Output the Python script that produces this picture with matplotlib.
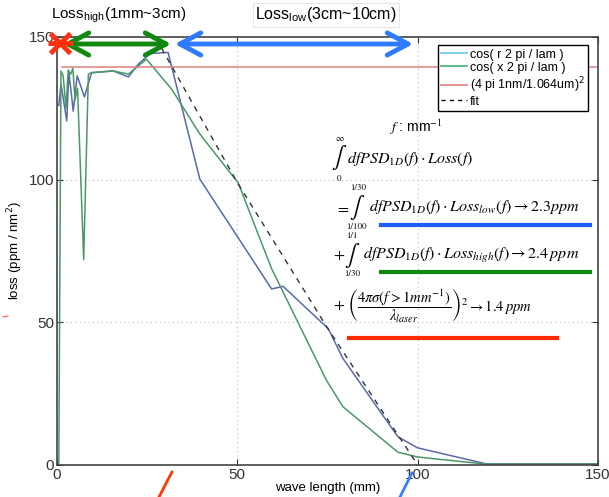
import numpy as np
import matplotlib
matplotlib.use("Agg")
import matplotlib.pyplot as plt
from matplotlib.lines import Line2D

plt.rcParams['font.family'] = ['Liberation Sans', 'DejaVu Sans']

# wave length (mm) and loss (ppm/nm^2)
r_x = [0.5, 1.1, 1.8, 2.7, 3.3, 3.9, 4.5, 5.6, 7.6, 9.6, 15.6, 19.8, 22.5, 25.8, 30.8,
       39.6, 59.5, 62.7, 75.2, 79.3, 94.5, 100, 119, 150]
r_y = [126, 133.5, 128, 120.6, 137.5, 131, 124, 136.4, 129, 137.5, 138.1, 136, 140.4, 144.2, 144.6,
       100.2, 61.7, 62.6, 47.8, 37.3, 9.9, 6.0, 0.4, 0.4]

x_x = [0.5, 1.1, 1.7, 2.5, 3.1, 3.8, 4.4, 5.0, 5.7, 7.4, 8.7, 9.6, 15.6, 19.8, 24.8, 31.8,
       39.6, 47.9, 50.2, 59.5, 74.7, 79.3, 94.5, 100, 119, 150]
x_y = [0, 138, 136.5, 125, 138.5, 137, 139, 128, 132, 72, 137, 137.5, 138.1, 137, 142.2, 131.7,
       116, 102.6, 99, 68.8, 29.7, 20.4, 4.5, 2.8, 0.3, 0.3]

laser_x = [1.5, 150]
laser_y = [139.5, 139.5]

fit_x = [29, 50, 75, 100]
fit_y = [146, 99, 48, 0]

fig = plt.figure(figsize=(6.09, 4.97), dpi=100)
ax = fig.add_axes([57/609, 1-465/497, (598-57)/609, (465-37)/497])

ax.plot(r_x, r_y, color="#5a6aa8", lw=1.1)
ax.plot(x_x, x_y, color="#4a9868", lw=1.1)
ax.plot(laser_x, laser_y, color="#dd8080", lw=1.1)
ax.plot(fit_x, fit_y, color="#333333", lw=1.0, ls=(0, (4, 4)))

ax.set_xlim(0, 150)
ax.set_ylim(0, 150)
ax.set_xticks([0, 50, 100, 150])
ax.set_yticks([0, 50, 100, 150])
ax.tick_params(direction="in", length=4, labelsize=11, pad=2, top=True, right=True, colors="#333333")
ax.grid(True, ls=(0, (1, 3)), color="#bbbbbb", lw=0.8)
for s in ax.spines.values():
    s.set_color("#444444")
    s.set_linewidth(1.2)
ax.set_xlabel("wave length (mm)", fontsize=9.5, labelpad=0)
ax.set_ylabel("loss (ppm / nm$^2$)", fontsize=9.5, labelpad=3)

handles = [Line2D([], [], color="#66c8ec", lw=1.2),
           Line2D([], [], color="#3cb371", lw=1.2),
           Line2D([], [], color="#e08080", lw=1.2),
           Line2D([], [], color="black", lw=1.0, ls=(0, (3, 3)))]
labels = ["cos( r 2 pi / lam )", "cos( x 2 pi / lam )", "(4 pi 1nm/1.064um)$^2$", "fit"]
leg = ax.legend(handles, labels, loc="upper right", fontsize=9, fancybox=False,
                framealpha=1, edgecolor="black", handlelength=2.1, handletextpad=0.2,
                borderpad=0.25, labelspacing=0.1, bbox_to_anchor=(0.993, 0.995))
leg.get_frame().set_linewidth(1.0)

def fp(x, y):
    return (x / 609, 1 - y / 497)

# formulas
mk = dict(transform=fig.transFigure, math_fontfamily="stix", fontsize=11.5, va="center", ha="left")
ig = dict(transform=fig.transFigure, math_fontfamily="stix", fontsize=16, va="center", ha="center")
lim = dict(transform=fig.transFigure, family="STIXGeneral", fontsize=6.5, va="center", ha="center")

fig.text(*fp(389, 127), r"$f$ : mm$^{-1}$", transform=fig.transFigure, fontsize=10,
         math_fontfamily="stix", va="center")

fig.text(*fp(339, 158), r"$\int$", **ig)
fig.text(*fp(340, 139), "∞", **lim)
fig.text(*fp(339, 179), "0", **lim)
fig.text(*fp(347, 158), r"$dfPSD_{1D}(f)\cdot Loss(f)$", **mk)

fig.text(*fp(335, 207), r"$=$", **mk)
fig.text(*fp(357, 207), r"$\int$", **ig)
fig.text(*fp(358, 188), "1/30", **lim)
fig.text(*fp(356, 227), "1/100", **lim)
fig.text(*fp(369, 207), r"$dfPSD_{1D}(f)\cdot Loss_{low}(f)\rightarrow 2.3ppm$", **mk)

fig.text(*fp(333, 255), r"$+$", **mk)
fig.text(*fp(352, 255), r"$\int$", **ig)
fig.text(*fp(352, 236), "1/1", **lim)
fig.text(*fp(352, 274), "1/30", **lim)
fig.text(*fp(363, 255), r"$dfPSD_{1D}(f)\cdot Loss_{high}(f)\rightarrow 2.4\,ppm$", **mk)

fig.text(*fp(333, 305), r"$+$", **mk)
fig.text(*fp(347, 306),
         r"$\left(\dfrac{4\pi\sigma(f>1mm^{-1})}{\lambda_{laser}}\right)^2\rightarrow 1.4\,ppm$",
         transform=fig.transFigure, math_fontfamily="stix", fontsize=10.5, va="center", ha="left")

# underlines
fig.add_artist(Line2D([381/609, 590/609], [1-225/497]*2, color="#1f5cff", lw=3))
fig.add_artist(Line2D([381/609, 590/609], [1-272/497]*2, color="#118811", lw=3))
fig.add_artist(Line2D([349/609, 557/609], [1-338/497]*2, color="#ff2a00", lw=3))

# top labels
fig.text(*fp(119, 15), r"Loss$_{\mathregular{high}}$(1mm~3cm)", fontsize=11, ha="center", va="center")
fig.text(*fp(326, 15), r"Loss$_{\mathregular{low}}$(3cm~10cm)", fontsize=11.5, ha="center", va="center",
         bbox=dict(boxstyle="square,pad=0.15", fc="white", ec="#e6e6e6", lw=0.8))

# range arrows
ax.annotate("", xy=fp(60, 44), xytext=fp(174, 44), xycoords="figure fraction",
            textcoords="figure fraction",
            arrowprops=dict(arrowstyle="<->,head_length=1.5,head_width=0.8", color="#118811", lw=3.5))
ax.annotate("", xy=fp(172, 44), xytext=fp(416, 44), xycoords="figure fraction",
            textcoords="figure fraction",
            arrowprops=dict(arrowstyle="<->,head_length=1.5,head_width=0.8", color="#2f7bff", lw=3.5))
fig.add_artist(Line2D([60/609], [1-43/497], marker="x", ms=14, mew=3.5, color="#ff3010"))
fig.add_artist(Line2D([60/609], [1-43/497], marker="_", ms=18, mew=3.5, color="#ff3010"))

# slanted marks at bottom
fig.add_artist(Line2D([159/609, 172/609], [0, 1-472/497], color="#ff3a00", lw=2))
fig.add_artist(Line2D([400/609, 412/609], [0, 1-473/497], color="#3a7bff", lw=2))
fig.add_artist(Line2D([3/609, 8/609], [1-317/497, 1-316/497], color="#ff5050", lw=0.8))

fig.savefig("out.png", dpi=100)
